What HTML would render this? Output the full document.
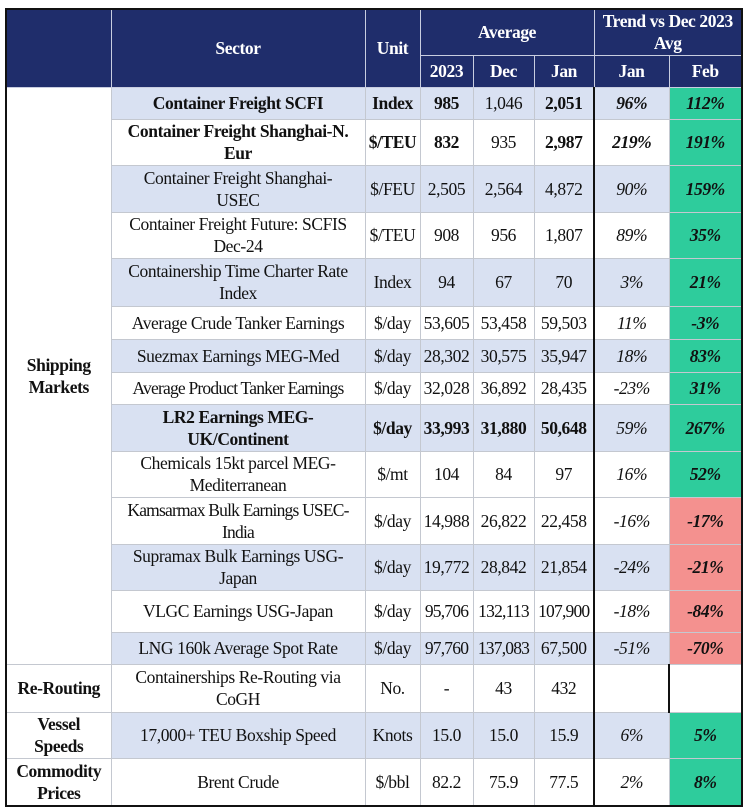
<!DOCTYPE html>
<html><head><meta charset="utf-8"><style>
body{margin:0;background:#fff;width:746px;height:808px;overflow:hidden;font-family:"Liberation Serif",serif;}
table{position:absolute;left:5px;top:8px;border-collapse:collapse;table-layout:fixed;border:2px solid #111;}
td,th{padding:0;text-align:center;font-size:17.5px;line-height:22px;color:#111;border:1.5px solid #c4c8d0;overflow:hidden;letter-spacing:-0.4px;white-space:nowrap;}
th{background:#1f2d6b;color:#fff;font-weight:bold;border:1.5px solid #c8cde0;}
.b{background:#d9e1f2;}
.g{background:#2ecc9c;font-weight:bold;font-style:italic;}
.r{background:#f4918f;font-weight:bold;font-style:italic;}
.i{font-style:italic;border-left:2px solid #111;}
.f{border-left:2px solid #111;}
.bold{font-weight:bold;}
.grp{font-weight:bold;background:#fff;}
.nw{letter-spacing:-0.8px;}
</style></head><body>
<table>
<colgroup><col style="width:105px"><col style="width:254px"><col style="width:55px"><col style="width:53px"><col style="width:61px"><col style="width:60px"><col style="width:75px"><col style="width:73px"></colgroup>
<tr style="height:46px">
<th rowspan="2"></th>
<th rowspan="2">Sector</th>
<th rowspan="2">Unit</th>
<th colspan="3">Average</th>
<th colspan="2">Trend vs Dec 2023<br>Avg</th></tr>
<tr style="height:32px">
<th>2023</th><th>Dec</th><th>Jan</th><th>Jan</th><th>Feb</th></tr>

<tr style="height:32px" class="b bold"><td rowspan="14" class="grp">Shipping<br>Markets</td><td>Container Freight SCFI</td><td>Index</td><td>985</td><td style="font-weight:normal">1,046</td><td>2,051</td><td class="i">96%</td><td class="g">112%</td></tr>
<tr style="height:46px" class="bold"><td>Container Freight Shanghai-N.<br>Eur</td><td>$/TEU</td><td>832</td><td style="font-weight:normal">935</td><td>2,987</td><td class="i">219%</td><td class="g">191%</td></tr>
<tr style="height:47px" class="b"><td>Container Freight Shanghai-<br>USEC</td><td>$/FEU</td><td>2,505</td><td>2,564</td><td>4,872</td><td class="i">90%</td><td class="g">159%</td></tr>
<tr style="height:46px"><td>Container Freight Future: SCFIS<br>Dec-24</td><td>$/TEU</td><td>908</td><td>956</td><td>1,807</td><td class="i">89%</td><td class="g">35%</td></tr>
<tr style="height:48px" class="b"><td>Containership Time Charter Rate<br>Index</td><td>Index</td><td>94</td><td>67</td><td>70</td><td class="i">3%</td><td class="g">21%</td></tr>
<tr style="height:33px"><td>Average Crude Tanker Earnings</td><td>$/day</td><td>53,605</td><td>53,458</td><td>59,503</td><td class="i">11%</td><td class="g">-3%</td></tr>
<tr style="height:33px" class="b"><td>Suezmax Earnings MEG-Med</td><td>$/day</td><td>28,302</td><td>30,575</td><td>35,947</td><td class="i">18%</td><td class="g">83%</td></tr>
<tr style="height:32px"><td class="nw">Average Product Tanker Earnings</td><td>$/day</td><td>32,028</td><td>36,892</td><td>28,435</td><td class="i">-23%</td><td class="g">31%</td></tr>
<tr style="height:47px" class="b bold"><td>LR2 Earnings MEG-<br>UK/Continent</td><td>$/day</td><td>33,993</td><td>31,880</td><td>50,648</td><td class="i" style="font-weight:normal">59%</td><td class="g">267%</td></tr>
<tr style="height:46px"><td>Chemicals 15kt parcel MEG-<br>Mediterranean</td><td>$/mt</td><td>104</td><td>84</td><td>97</td><td class="i">16%</td><td class="g">52%</td></tr>
<tr style="height:47px"><td class="nw">Kamsarmax Bulk Earnings USEC-<br>India</td><td>$/day</td><td>14,988</td><td>26,822</td><td>22,458</td><td class="i">-16%</td><td class="r">-17%</td></tr>
<tr style="height:46px" class="b"><td>Supramax Bulk Earnings USG-<br>Japan</td><td>$/day</td><td>19,772</td><td>28,842</td><td>21,854</td><td class="i">-24%</td><td class="r">-21%</td></tr>
<tr style="height:42px"><td>VLGC Earnings USG-Japan</td><td>$/day</td><td class="nw">95,706</td><td class="nw">132,113</td><td class="nw">107,900</td><td class="i">-18%</td><td class="r">-84%</td></tr>
<tr style="height:32px" class="b"><td>LNG 160k Average Spot Rate</td><td>$/day</td><td class="nw">97,760</td><td class="nw">137,083</td><td>67,500</td><td class="i">-51%</td><td class="r">-70%</td></tr>
<tr style="height:48px"><td class="grp">Re-Routing</td><td>Containerships Re-Routing via<br>CoGH</td><td>No.</td><td>-</td><td>43</td><td>432</td><td class="i"></td><td class="f"></td></tr>
<tr style="height:46px" class="b"><td class="grp">Vessel<br>Speeds</td><td>17,000+ TEU Boxship Speed</td><td>Knots</td><td>15.0</td><td>15.0</td><td>15.9</td><td class="i">6%</td><td class="g">5%</td></tr>
<tr style="height:48px"><td class="grp">Commodity<br>Prices</td><td>Brent Crude</td><td>$/bbl</td><td>82.2</td><td>75.9</td><td>77.5</td><td class="i">2%</td><td class="g">8%</td></tr>
</table>
</body></html>
